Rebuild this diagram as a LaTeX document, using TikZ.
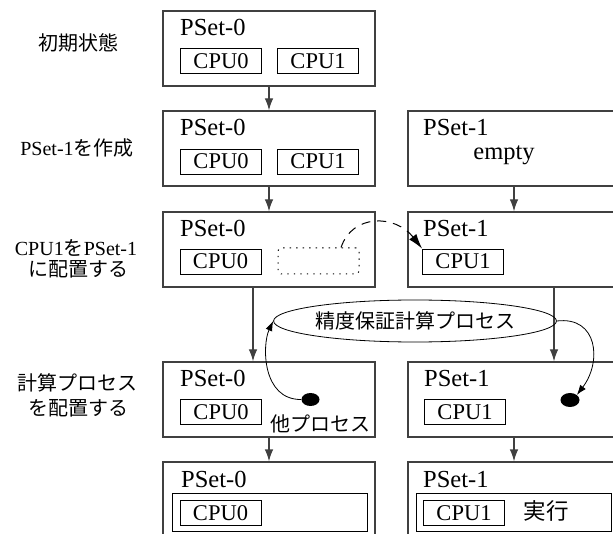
\documentclass[tikz,border=0pt]{standalone}
\usepackage{fontspec}
\setmainfont{Liberation Serif}
\newfontfamily\jp{Noto Sans CJK JP}
\usetikzlibrary{arrows.meta,shapes.geometric,calc}
\begin{document}
\begin{tikzpicture}[x=1pt,y=-1pt,
  pbox/.style={draw=black!75, line width=1.2pt, minimum width=212pt, minimum height=75pt, inner sep=0pt},
  cpubox/.style={draw=black, line width=0.8pt, minimum width=81pt, minimum height=25pt, inner sep=0pt,
     text height=15pt, text depth=0pt, font=\fontsize{22.5}{26}\selectfont},
  bigbox/.style={draw=black, line width=0.8pt, minimum width=195pt, minimum height=38pt, inner sep=0pt},
  plabel/.style={anchor=base west, inner sep=0pt, font=\fontsize{24.5}{28}\selectfont},
  side/.style={anchor=base, inner sep=0pt, font=\fontsize{20}{24}\selectfont},
  jtext/.style={anchor=base, inner sep=0pt, font=\fontsize{20}{24}\selectfont\jp},
  arr/.style={draw=black!75, line width=1.2pt, -{Latex[length=12pt,width=8.5pt]}},
  carr/.style={draw=black, line width=0.8pt, -{Latex[length=10pt,width=7pt]}},
  blob/.style={ellipse, fill=black, minimum width=18pt, minimum height=13pt, inner sep=0pt}]
\useasboundingbox (0,0) rectangle (613,534);
\clip (0,0) rectangle (613,534);

% side labels
\node[jtext] (s1) at (78,50.5) {初期状態};
\node[side] (s2) at (77,156) {PSet-1{\jp を作成}};
\node[side] (s3a) at (76,256) {CPU1{\jp を}PSet-1};
\node[jtext] (s3b) at (78,277) {に配置する};
\node[jtext] (s4a) at (77,391) {計算プロセス};
\node[jtext] (s4b) at (78,415) {を配置する};

% outer boxes
\node[pbox] (L1) at (269,48.5) {};
\node[pbox] (L2) at (269,148.5) {};
\node[pbox] (L3) at (269,249.5) {};
\node[pbox] (L4) at (269,399.5) {};
\node[pbox] (L5) at (269,499.5) {};
\node[pbox] (R2) at (514,148.5) {};
\node[pbox] (R3) at (514,249.5) {};
\node[pbox] (R4) at (514,399.5) {};
\node[pbox] (R5) at (514,499.5) {};

% titles
\node[plabel] (L1t) at (180,36) {PSet-0};
\node[plabel] (L2t) at (180,136) {PSet-0};
\node[plabel] (L3t) at (180,237) {PSet-0};
\node[plabel] (L4t) at (180,387) {PSet-0};
\node[plabel] (L5t) at (181,487) {PSet-0};
\node[plabel] (R2t) at (423,136) {PSet-1};
\node[plabel] (R3t) at (423,237) {PSet-1};
\node[plabel] (R4t) at (424,387) {PSet-1};
\node[plabel] (R5t) at (423,487) {PSet-1};
\node[anchor=base, inner sep=0pt, font=\fontsize{24.5}{28}\selectfont] (empty) at (504,160) {empty};

% cpu boxes
\node[cpubox] (L1a) at (221,61) {CPU0};
\node[cpubox] (L1b) at (318,61) {CPU1};
\node[cpubox] (L2a) at (221,161.5) {CPU0};
\node[cpubox] (L2b) at (318,161.5) {CPU1};
\node[cpubox] (L3a) at (220.5,261.5) {CPU0};
\node[draw=black, line width=1pt, dash pattern=on 1.3pt off 5.2pt, rounded corners=3pt,
      minimum width=81pt, minimum height=26pt, inner sep=0pt] (L3d) at (318.5,261) {};
\node[cpubox] (R3a) at (463,261.5) {CPU1};
\node[cpubox] (L4a) at (221,411.5) {CPU0};
\node[cpubox] (R4a) at (465,411.5) {CPU1};
\node[bigbox] (L5big) at (269.5,512) {};
\node[bigbox] (R5big) at (513.5,512) {};
\node[cpubox] (L5a) at (220.5,512.5) {CPU0};
\node[cpubox] (R5a) at (464,512.5) {CPU1};
\node[anchor=base, inner sep=0pt, font=\fontsize{22.5}{26}\selectfont\jp] (exec) at (546,519) {実行};
\node[jtext] (other) at (320,431.5) {他プロセス};

% vertical arrows
\draw[arr] (L1.south) -- (L2.north);
\draw[arr] (L2.south) -- (L3.north);
\draw[arr] (R2.south) -- (R3.north);
\draw[arr] ([xshift=-16pt]L3.south) -- ([xshift=-16pt]L4.north);
\draw[arr] ([xshift=40pt]R3.south) -- ([xshift=40pt]R4.north);
\draw[arr] (L4.south) -- (L5.north);
\draw[arr] (R4.south) -- (R5.north);

% moving CPU1
\coordinate (mv) at ($(L3d.north)!0.55!(L3d.north east)$);
\draw[line width=1pt, dash pattern=on 9pt off 7pt, -{Latex[length=15pt,width=9pt]}]
  (mv) .. controls (352,214) and (395,214) .. (R3a.north west);

% process ellipse
\node[ellipse, draw=black, line width=0.8pt, minimum width=245pt, minimum height=42pt, inner sep=0pt,
      font=\fontsize{20}{24}\selectfont\jp] (E) at (415,321) {精度保証計算プロセス};

% dots and curved arrows
\node[blob] (D1) at (310.5,399.5) {};
\node[blob, minimum width=19pt, minimum height=14pt] (D2) at (570,400) {};
\draw[carr] (D1.west) .. controls (262,400) and (262,345) .. (E.west);
\draw[carr] (E.east) .. controls (598,316) and (602,362) .. (D2.north east);
\end{tikzpicture}
\end{document}
